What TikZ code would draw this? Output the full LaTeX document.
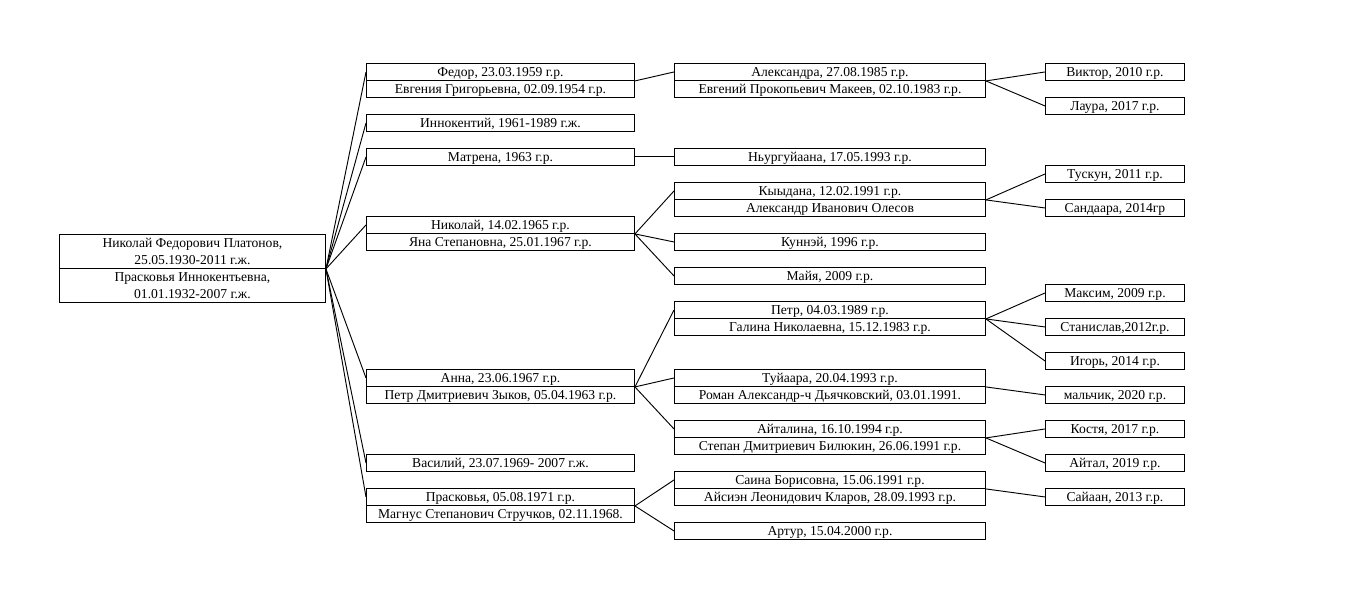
\documentclass[tikz,border=0pt]{standalone}
\usepackage{fontspec}
\setmainfont{Liberation Serif}
\begin{document}
\begin{tikzpicture}
[x=0.75pt,y=-0.75pt,
  boxdecorate/.style={shape=rectangle,draw,line width=0.7pt,inner sep=0pt,
    anchor=north west,font=\fontsize{10.2pt}{12.75pt}\selectfont},%
  persondecorate/.style={boxdecorate,minimum height=12.75pt,
    text height=8.1pt,text depth=1.1pt},%
  rootdecorate/.style={boxdecorate,minimum width=199.5pt,minimum height=25.5pt,align=center},%
  gentwo/.style={persondecorate,minimum width=201pt},%
  genthree/.style={persondecorate,minimum width=233.25pt},%
  genfour/.style={persondecorate,minimum width=104.25pt},%
  linedecorate/.style={-,line width=0.7pt}]
\useasboundingbox (0,0) rectangle (1355,598);
%% parents
\node (root1) at (59,234) [rootdecorate] {Николай Федорович Платонов,\\25.05.1930-2011 г.ж.};
\node (root2) at (59,268) [rootdecorate] {Прасковья Иннокентьевна,\\01.01.1932-2007 г.ж.};
%% children
\foreach \nodename/\y/\txt in {fed/63/{Федор, 23.03.1959 г.р.},
  evg/80/{Евгения Григорьевна, 02.09.1954 г.р.},
  inn/114/{Иннокентий, 1961-1989 г.ж.},
  mat/148/{Матрена, 1963 г.р.},
  nik/216/{Николай, 14.02.1965 г.р.},
  yan/233/{Яна Степановна, 25.01.1967 г.р.},
  ann/369/{Анна, 23.06.1967 г.р.},
  pzy/386/{Петр Дмитриевич Зыков, 05.04.1963 г.р.},
  vas/454/{Василий, 23.07.1969- 2007 г.ж.},
  pra/488/{Прасковья, 05.08.1971 г.р.},
  mag/505/{Магнус Степанович Стручков, 02.11.1968.}} {
  \node (\nodename) at (366,\y) [gentwo] {\txt};
}
%% grandchildren
\foreach \nodename/\y/\txt in {alx/63/{Александра, 27.08.1985 г.р.},
  emk/80/{Евгений Прокопьевич Макеев, 02.10.1983 г.р.},
  nyu/148/{Ньургуйаана, 17.05.1993 г.р.},
  kyy/182/{Кыыдана, 12.02.1991 г.р.},
  ole/199/{Александр Иванович Олесов},
  kun/233/{Куннэй, 1996 г.р.},
  may/267/{Майя, 2009 г.р.},
  ptr/301/{Петр, 04.03.1989 г.р.},
  gal/318/{Галина Николаевна, 15.12.1983 г.р.},
  tuy/369/{Туйаара, 20.04.1993 г.р.},
  rom/386/{Роман Александр-ч Дьячковский, 03.01.1991.},
  ait/420/{Айталина, 16.10.1994 г.р.},
  ste/437/{Степан Дмитриевич Билюкин, 26.06.1991 г.р.},
  sai/471/{Саина Борисовна, 15.06.1991 г.р.},
  ais/488/{Айсиэн Леонидович Кларов, 28.09.1993 г.р.},
  art/522/{Артур, 15.04.2000 г.р.}} {
  \node (\nodename) at (674,\y) [genthree] {\txt};
}
%% great-grandchildren
\foreach \nodename/\y/\txt in {vik/63/{Виктор, 2010 г.р.},
  lau/97/{Лаура, 2017 г.р.},
  tus/165/{Тускун, 2011 г.р.},
  san/199/{Сандаара, 2014гр},
  mak/284/{Максим, 2009 г.р.},
  sta/318/{Станислав,2012г.р.},
  igo/352/{Игорь, 2014 г.р.},
  mal/386/{мальчик, 2020 г.р.},
  kos/420/{Костя, 2017 г.р.},
  ayt/454/{Айтал, 2019 г.р.},
  say/488/{Сайаан, 2013 г.р.}} {
  \node (\nodename) at (1045,\y) [genfour] {\txt};
}
%% edges or lines
\path
\foreach \startnode/\endnode in {root1.south east/fed, root1.south east/inn,
  root1.south east/mat, root1.south east/nik, root1.south east/ann,
  root1.south east/vas, root1.south east/pra,
  fed.south east/alx, mat.east/nyu, nik.south east/kyy, nik.south east/kun,
  nik.south east/may, ann.south east/ptr, ann.south east/tuy,
  ann.south east/ait, pra.south east/sai, pra.south east/art,
  alx.south east/vik, alx.south east/lau, kyy.south east/tus,
  kyy.south east/san, ptr.south east/mak, ptr.south east/sta,
  ptr.south east/igo, tuy.south east/mal, ait.south east/kos,
  ait.south east/ayt, sai.south east/say} {
  (\startnode) edge[linedecorate] (\endnode.west)
};
\end{tikzpicture}
\end{document}
